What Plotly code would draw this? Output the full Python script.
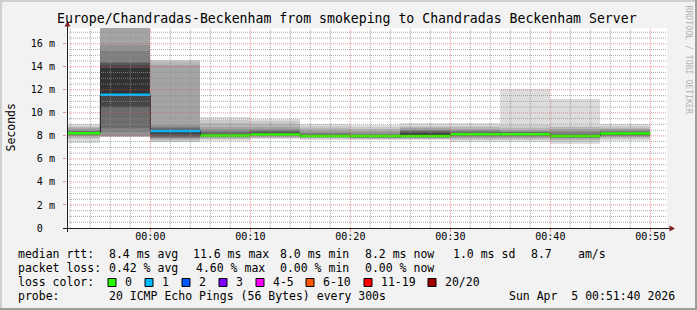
import math
import pandas as pd
import plotly.graph_objects as go

# ---------------- data ----------------
title_text = "Europe/Chandradas-Beckenham from smokeping to Chandradas Beckenham Server"

# end time of each 5-minute measurement slot
slot_end = ["2026-04-04 23:55", "2026-04-05 00:00", "2026-04-05 00:05", "2026-04-05 00:10",
            "2026-04-05 00:15", "2026-04-05 00:20", "2026-04-05 00:25", "2026-04-05 00:30",
            "2026-04-05 00:35", "2026-04-05 00:40", "2026-04-05 00:45", "2026-04-05 00:50"]

# median round-trip time (ms) per slot
median_ms = [8.23, 11.57, 8.43, 8.03, 8.12, 8.00, 7.98, 8.00, 8.15, 8.14, 7.98, 8.20]

# lost pings (out of 20) per slot
loss_count = [0, 1, 1, 0, 0, 0, 0, 0, 0, 0, 0, 0]

NA = float("nan")
# sorted ping times (ms) per slot, NaN = lost ping
pings_ms = [
    [7.37, 7.70, 7.85, 7.95, 8.00, 8.05, 8.10, 8.15, 8.20, 8.22, 8.25, 8.30, 8.35, 8.40, 8.45, 8.55, 8.70, 8.80, 8.90, 9.02],
    [7.90, 7.93, 7.94, 7.95, 8.00, 8.30, 8.67, 10.40, 10.55, 11.57, 13.88, 14.20, 14.35, 14.46, 15.33, 15.90, 18.50, 21.0, 26.0, NA],
    [7.45, 7.50, 7.60, 7.70, 7.80, 7.85, 7.90, 8.00, 8.20, 8.43, 8.50, 8.55, 8.60, 8.70, 8.80, 8.96, 14.20, 14.45, 14.60, NA],
    [7.59, 7.72, 7.77, 7.82, 7.87, 7.92, 7.96, 8.00, 8.02, 8.03, 8.05, 8.10, 8.20, 8.30, 8.40, 8.60, 8.80, 9.10, 9.40, 9.68],
    [7.71, 7.78, 7.85, 7.90, 7.95, 8.00, 8.04, 8.08, 8.11, 8.12, 8.15, 8.20, 8.30, 8.40, 8.50, 8.60, 8.80, 9.00, 9.25, 9.48],
    [7.65, 7.72, 7.78, 7.83, 7.87, 7.90, 7.93, 7.96, 7.98, 8.00, 8.02, 8.05, 8.10, 8.15, 8.25, 8.35, 8.50, 8.70, 8.85, 9.04],
    [7.65, 7.72, 7.76, 7.80, 7.83, 7.86, 7.89, 7.92, 7.95, 7.98, 7.99, 8.02, 8.06, 8.10, 8.20, 8.30, 8.45, 8.60, 8.80, 8.96],
    [7.65, 7.70, 7.75, 7.80, 7.85, 7.90, 7.93, 7.96, 7.98, 8.00, 8.10, 8.25, 8.38, 8.45, 8.50, 8.55, 8.65, 8.75, 8.90, 9.16],
    [7.50, 7.65, 7.75, 7.85, 7.92, 7.98, 8.03, 8.08, 8.12, 8.15, 8.18, 8.22, 8.27, 8.33, 8.40, 8.50, 8.60, 8.75, 8.90, 9.10],
    [7.45, 7.60, 7.75, 7.85, 7.92, 7.98, 8.03, 8.07, 8.11, 8.14, 8.16, 8.20, 8.25, 8.30, 8.38, 8.45, 8.55, 8.70, 8.95, 12.10],
    [7.28, 7.45, 7.60, 7.70, 7.78, 7.84, 7.89, 7.93, 7.96, 7.98, 8.00, 8.04, 8.10, 8.20, 8.30, 8.45, 8.60, 8.75, 8.85, 11.20],
    [7.59, 7.70, 7.80, 7.88, 7.95, 8.02, 8.08, 8.12, 8.16, 8.20, 8.22, 8.26, 8.30, 8.36, 8.42, 8.50, 8.60, 8.72, 8.85, 9.04],
]

loss_labels = ["0", "1", "2", "3", "4-5", "6-10", "11-19", "20/20"]
loss_colors = ["#26ff00", "#00b8ff", "#0059ff", "#7e00ff", "#ff00ff", "#ff5500", "#ff0000", "#a10000"]
loss_upper = [0, 1, 2, 3, 5, 10, 19, 20]

y_tick_vals = [0, 2, 4, 6, 8, 10, 12, 14, 16]
y_tick_text = ["0\u00a0\u00a0", "2 m", "4 m", "6 m", "8 m", "10 m", "12 m", "14 m", "16 m"]

legend_rows = [
    [("median rtt:", 16), ("8.4 ms avg", 107), ("11.6 ms max", 191), ("8.0 ms min", 278),
     ("8.2 ms now", 363), ("1.0 ms sd", 451), ("8.7", 529), ("am/s", 576)],
    [("packet loss:", 16), ("0.42 % avg", 107), ("4.60 % max", 194), ("0.00 % min", 278),
     ("0.00 % now", 363)],
    [("loss color:", 16)],
    [("probe:", 16), ("20 ICMP Echo Pings (56 Bytes) every 300s", 107)],
]
stamp_text = "Sun Apr  5 00:51:40 2026"

x_start, x_end = "2026-04-04 23:51:40", "2026-04-05 00:51:40"
y_max = 17.37
minor_minutes, major_minutes = 2, 10
minor_ms, major_ms = 0.5, 2.0

# ---------------- geometry helpers ----------------
W, H = 697, 310
PL, PT, PW, PH = 67, 28, 600, 200


def px(x):
    return (x - PL) / PW


def py(y):
    return (PT + PH - y) / PH


MONO = "DejaVu Sans Mono"

ends = pd.to_datetime(slot_end)
step = pd.Timedelta(minutes=5)
starts = ends - step
centers = ends - step / 2
t0, t1 = pd.Timestamp(x_start), pd.Timestamp(x_end)

fig = go.Figure()

# smoke: band i spans ping i .. ping (n-1-i), darker towards the median
n = 20
half = n // 2
for i in range(half):
    shade = int(190 / half * (half - (i + 1))) + 50
    col = "#%02x%02x%02x" % (shade, shade, shade)
    lows, highs = [], []
    for p in pings_ms:
        lo, hi = p[i], p[n - 1 - i]
        if math.isnan(lo) or math.isnan(hi):
            lows.append(None)
            highs.append(None)
        else:
            lows.append(lo)
            highs.append(hi - lo)
    fig.add_trace(go.Bar(x=centers, y=highs, base=lows, width=step.total_seconds() * 1000,
                         marker=dict(color=col, line=dict(width=0)), hoverinfo="skip",
                         showlegend=False))

# median line: dark thin step line then loss-coloured horizontal segments
mx, my = [], []
for s, e, m in zip(starts, ends, median_ms):
    mx += [s, e]
    my += [m, m]
fig.add_trace(go.Scatter(x=mx, y=my, mode="lines", line=dict(color="#202020", width=1),
                         hoverinfo="skip", showlegend=False))


def loss_bin(c):
    for k, up in enumerate(loss_upper):
        if c <= up:
            return k
    return len(loss_upper) - 1


for k, col in enumerate(loss_colors):
    xs, ys = [], []
    for s, e, m, c in zip(starts, ends, median_ms, loss_count):
        if loss_bin(c) == k:
            xs += [s, e, None]
            ys += [m, m, None]
    if xs:
        fig.add_trace(go.Scatter(x=xs, y=ys, mode="lines", line=dict(color=col, width=2.5),
                                 hoverinfo="skip", showlegend=False))

# grid (rrdtool draws its grid on top of the data)
MGRID = "rgba(222,79,79,0.6)"
GRID = "rgba(143,143,143,0.75)"
DASH = "1px,1px"


def grid_trace(is_major):
    gx, gy = [], []
    ref = pd.Timestamp("2026-04-05 00:00")
    t = ref
    while t - pd.Timedelta(minutes=minor_minutes) > t0:
        t -= pd.Timedelta(minutes=minor_minutes)
    while t < t1:
        mins = (t - ref).total_seconds() / 60
        major = abs(mins / major_minutes - round(mins / major_minutes)) < 1e-9
        if major == is_major:
            gx += [t, t, None]
            gy += [0, y_max, None]
        t += pd.Timedelta(minutes=minor_minutes)
    k = 1
    while k * minor_ms < y_max:
        v = k * minor_ms
        major = abs(v / major_ms - round(v / major_ms)) < 1e-9
        if major == is_major:
            gx += [t0, t1, None]
            gy += [v, v, None]
        k += 1
    return go.Scatter(x=gx, y=gy, mode="lines", hoverinfo="skip", showlegend=False,
                      line=dict(color=MGRID if is_major else GRID, width=1, dash=DASH))


fig.add_trace(grid_trace(False))
fig.add_trace(grid_trace(True))

tickfont = dict(family=MONO, size=10.1, color="#000")

fig.update_layout(
    width=W, height=H,
    margin=dict(l=PL, r=W - PL - PW, t=PT, b=H - PT - PH, pad=0),
    paper_bgcolor="#f2f2f2", plot_bgcolor="#ffffff",
    barmode="overlay", bargap=0,
    showlegend=False,
    xaxis=dict(type="date", range=[x_start, x_end],
               tickmode="linear", tick0="2026-04-05 00:00", dtick=major_minutes * 60000,
               tickformat="%H:%M", showgrid=False, zeroline=False, showline=False,
               ticks="outside", ticklen=3, tickcolor=MGRID, tickwidth=1,
               tickfont=tickfont, ticklabelstandoff=-4),
    yaxis=dict(range=[0, y_max], tickmode="array", tickvals=y_tick_vals, ticktext=y_tick_text,
               showgrid=False, zeroline=False, showline=False,
               ticks="outside", ticklen=3, tickcolor=MGRID, tickwidth=1,
               tickfont=tickfont, ticklabelstandoff=6),
)

shapes = []
# 3D frame
for (x0, y0, x1, y1, c) in [(0, 0, W, 2, "#cfcfcf"), (0, 0, 2, H, "#cfcfcf"),
                            (W - 2, 0, W, H, "#9e9e9e"), (0, H - 2, W, H, "#9e9e9e")]:
    shapes.append(dict(type="rect", xref="paper", yref="paper", x0=px(x0), x1=px(x1),
                       y0=py(y1), y1=py(y0), fillcolor=c, line=dict(width=0), layer="above"))
# axis lines
shapes.append(dict(type="line", xref="paper", yref="paper", x0=px(63), x1=px(670),
                   y0=py(228.5), y1=py(228.5), line=dict(color="#1f1f1f", width=1), layer="above"))
shapes.append(dict(type="line", xref="paper", yref="paper", x0=px(67.5), x1=px(67.5),
                   y0=py(232), y1=py(24), line=dict(color="#1f1f1f", width=1), layer="above"))
# arrows
shapes.append(dict(type="path", xref="paper", yref="paper", layer="above",
                   path="M %f %f L %f %f L %f %f Z" % (px(669.5), py(225.5), px(675), py(228.5),
                                                      px(669.5), py(231.5)),
                   fillcolor="#801f1f", line=dict(width=0)))
shapes.append(dict(type="path", xref="paper", yref="paper", layer="above",
                   path="M %f %f L %f %f L %f %f Z" % (px(64.5), py(26.5), px(67.5), py(21),
                                                      px(70.5), py(26.5)),
                   fillcolor="#801f1f", line=dict(width=0)))

annotations = []


def text(x, y, s, size=11.5, xanchor="left", color="#000", angle=0):
    annotations.append(dict(x=px(x), y=py(y), xref="paper", yref="paper", text=s,
                            showarrow=False, xanchor=xanchor, yanchor="middle",
                            textangle=angle, font=dict(family=MONO, size=size, color=color)))


text(347, 18.5, title_text, size=13.2, xanchor="center")
text(10.5, 128, "Seconds", xanchor="center", angle=-90)
text(688.5, 60, "RRDTOOL / TOBI OETIKER", size=8.2, xanchor="center", color="#b4b4b4", angle=90)

row_y = [254.3, 268.3, 282.3, 296.3]
for ry, row in zip(row_y, legend_rows):
    for s, x in row:
        text(x, ry, s)
text(676.5, row_y[3], stamp_text, xanchor="right")

# loss colour swatches
swatch_x = [108, 145, 182, 219, 256, 306, 364, 428]
for sx, col, lab in zip(swatch_x, loss_colors, loss_labels):
    shapes.append(dict(type="rect", xref="paper", yref="paper", x0=px(sx), x1=px(sx + 8),
                       y0=py(286.5), y1=py(278.5), fillcolor=col,
                       line=dict(color="#000000", width=1), layer="above"))
    text(sx + 14.5, row_y[2], lab)

fig.update_layout(shapes=shapes, annotations=annotations)
fig.write_html("out.html")
